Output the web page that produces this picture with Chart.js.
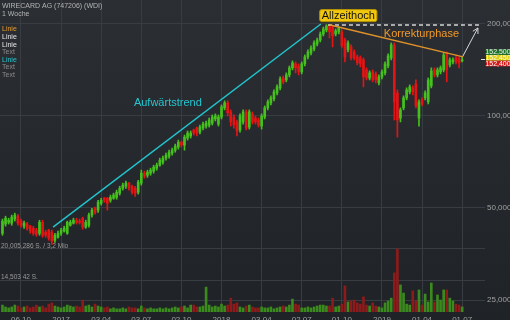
<!DOCTYPE html>
<html><head><meta charset="utf-8">
<script src="https://cdn.jsdelivr.net/npm/chart.js@4"></script>
<style>
html,body{margin:0;padding:0;width:510px;height:320px;overflow:hidden;background:linear-gradient(#2b2f34,#1f2226);}
#wrap{position:relative;width:510px;height:320px;}
canvas{display:block;}
</style></head><body><div id="wrap"><canvas id="c" width="510" height="320"></canvas></div>
<script>
// ---- axis ticks ----
const tickIndex = [6,19,32,45,58,71,84,97,110,123,136,149];
const tickLabels = ['06.10','2017','03.04','03.07','02.10','2018','03.04','02.07','01.10','2019','01.04','01.07'];
const priceTicks = [25,50,100,200];
const volumeTicks = [10.002643, 20.005286];
const volumeTickLabels = ['14,503 42 S.', '20,005,286 S. / 3,2 Mio'];

// ---- weekly candles (EUR) ----
const open = [
 41.3,44.3,44.9,44.6,46.0,47.0,45.3,43.6,44.3,43.6,
 42.9,42.3,41.3,44.9,41.7,42.3,41.7,39.2,40.1,41.3,
 42.0,41.3,43.9,44.6,45.6,45.3,46.3,43.3,43.9,47.4,
 49.9,49.2,51.8,53.8,53.8,53.0,53.8,54.2,55.9,58.0,
 58.9,60.3,58.9,58.0,56.3,60.3,65.0,64.0,65.0,66.0,
 67.5,69.0,70.6,72.8,73.9,75.6,77.3,79.1,82.1,80.3,
 84.7,86.0,90.0,91.3,88.6,91.3,92.7,93.4,94.8,97.8,
 94.1,99.2,106.3,110.4,103.1,99.2,95.6,90.0,95.6,103.1,
 92.0,101.6,98.5,97.0,92.7,99.2,106.3,110.4,113.8,119.0,
 123.6,133.2,131.2,136.3,143.7,148.1,145.8,139.4,148.1,156.1,
 160.8,165.7,172.1,177.3,185.5,191.2,198.5,195.5,185.5,188.4,
 188.4,177.3,164.5,168.2,162.0,156.1,154.9,152.6,141.5,133.2,
 139.4,137.3,128.3,134.2,138.4,145.8,154.9,170.8,119.0,98.5,
 106.3,114.6,119.9,123.6,127.4,98.5,112.9,114.6,111.2,125.5,
 141.5,136.3,139.4,141.5,160.8,146.9,150.3,154.9,153.7,151.4];
const high = [
 46.0,47.0,46.3,47.4,48.1,47.7,46.0,45.3,44.9,43.9,
 43.6,42.9,45.6,45.6,42.3,42.6,42.3,41.3,42.0,42.9,
 43.6,45.3,45.6,46.3,46.3,46.0,46.7,45.6,48.1,49.9,
 50.3,53.0,53.8,54.2,54.2,55.1,55.9,57.2,58.9,60.3,
 61.2,60.7,59.4,58.9,61.6,66.5,66.0,66.5,67.5,69.0,
 70.1,72.8,73.9,75.6,77.3,78.5,80.9,83.4,82.8,86.6,
 89.3,89.3,90.6,92.0,93.4,95.6,96.3,98.5,100.8,101.6,
 100.8,108.7,112.1,112.1,104.7,100.8,97.0,101.6,104.7,104.7,
 104.7,103.1,100.0,98.5,101.6,107.9,112.9,116.4,121.7,126.4,
 134.2,135.3,138.4,145.8,151.4,150.3,148.1,150.3,158.4,164.5,
 169.5,176.0,180.0,188.4,195.5,199.0,198.9,197.0,192.6,195.5,
 191.2,180.0,176.0,170.8,164.5,158.4,157.2,154.9,143.7,140.5,
 141.5,139.4,136.3,141.5,150.3,159.6,173.4,173.4,121.7,106.3,
 116.4,123.6,126.4,125.5,131.2,112.9,114.6,120.8,133.2,143.7,
 143.7,143.7,145.8,160.8,162.0,154.9,154.9,157.2,156.1,156.1];
const low = [
 40.7,43.6,44.3,43.9,45.3,43.9,43.3,42.9,42.3,41.3,
 40.7,40.4,40.7,40.1,40.1,39.2,38.0,38.6,39.8,40.7,
 41.7,41.0,43.6,44.3,44.3,44.3,42.6,42.9,43.3,46.7,
 47.7,48.4,51.1,52.2,49.2,52.2,53.4,53.4,55.1,57.2,
 58.0,57.2,55.5,54.6,55.5,59.4,62.6,63.0,64.0,65.0,
 66.5,68.5,69.5,71.7,72.8,74.4,76.1,77.9,79.1,77.3,
 83.4,84.7,86.6,86.0,87.3,90.0,91.3,92.0,93.4,96.3,
 92.7,97.8,104.7,100.0,92.7,91.3,86.0,88.6,94.1,90.0,
 90.6,94.1,94.1,92.0,90.6,97.8,104.7,108.7,112.1,117.2,
 121.7,127.4,129.3,134.2,141.5,138.4,136.3,137.3,145.8,153.7,
 158.4,163.3,169.5,174.7,182.8,188.4,180.0,168.2,182.8,185.5,
 167.0,150.3,162.0,152.6,152.6,146.9,144.7,124.5,131.2,131.2,
 129.3,128.3,126.4,132.2,136.3,143.7,152.6,97.0,85.3,95.6,
 104.7,112.9,118.1,117.2,106.3,92.7,107.9,112.9,109.5,123.6,
 134.2,134.2,137.3,139.4,129.3,144.7,148.1,148.1,143.7,150.3];
const close = [
 45.3,46.3,45.6,46.7,47.4,44.6,43.9,44.6,42.9,42.0,
 41.3,41.0,44.9,40.7,40.7,39.8,38.9,40.7,41.3,42.3,
 42.9,44.9,44.9,45.6,44.9,44.9,43.3,44.9,47.4,49.2,
 48.4,52.2,53.0,53.0,51.8,54.2,55.1,56.3,58.0,59.4,
 60.3,58.0,56.3,55.9,60.7,65.0,63.5,65.5,66.5,68.0,
 69.0,71.7,72.8,74.4,76.1,77.3,79.7,82.1,80.3,85.3,
 87.9,87.9,87.9,87.9,92.0,94.1,94.8,97.0,99.2,100.0,
 99.2,107.1,110.4,102.4,95.6,93.4,89.3,100.0,103.1,91.3,
 103.1,95.6,95.6,93.4,100.0,106.3,111.2,114.6,119.9,124.5,
 132.2,129.3,136.3,143.7,149.2,143.7,139.4,148.1,156.1,162.0,
 167.0,173.4,177.3,185.5,192.6,197.0,188.4,182.8,189.8,194.1,
 169.5,156.1,173.4,154.9,154.9,149.2,148.1,134.2,133.2,138.4,
 131.2,131.2,134.2,139.4,148.1,157.2,170.8,111.2,97.0,104.7,
 114.6,121.7,124.5,119.9,107.9,111.2,109.5,119.0,131.2,140.5,
 136.3,141.5,143.7,158.4,141.5,152.6,152.6,150.3,149.2,152.45];
// weekly volume, million shares
const volume = [
 2.2,1.6,1.3,1.6,2.2,1.9,1.3,1.6,1.9,1.3,1.6,2.2,1.6,1.9,1.3,2.5,2.9,
 1.9,1.6,1.3,1.6,2.2,1.9,1.6,1.9,1.6,3.8,1.9,2.2,1.6,2.5,1.9,1.6,
 1.3,1.6,1.0,1.3,1.0,1.0,1.3,1.0,1.6,1.3,1.3,1.0,1.9,1.3,1.0,1.3,1.0,1.0,1.3,1.0,1.3,1.0,1.3,1.6,
 1.3,1.6,1.9,1.3,2.2,2.2,1.6,1.6,1.9,7.9,2.2,1.6,1.9,1.6,2.5,1.9,
 2.2,4.4,2.5,2.9,1.6,1.3,1.9,2.2,1.6,1.3,1.3,1.6,1.3,1.3,1.6,1.0,1.3,1.6,
 1.9,1.6,2.2,4.1,2.5,2.2,1.3,1.3,1.6,1.3,1.6,1.9,2.2,2.2,1.9,
 1.9,4.4,1.6,1.9,2.5,8.3,3.2,3.5,3.8,2.9,2.5,4.8,2.2,1.9,2.9,1.9,1.6,1.3,2.9,3.5,4.4,
 12.4,20.005,8.6,6.0,2.5,2.2,6.7,3.5,7.0,2.2,5.7,3.2,9.2,3.2,5.4,3.8,7.0,7.0,4.4,3.5,2.5,2.2,1.6];

// ---- drawn lines (week index, price) ----
const uptrendLine = [{x:16.4,y:43.3},{x:103.2,y:200}];
const correctionLine = [{x:106.2,y:198.5},{x:149.3,y:156.1}];
const athLine = [{x:105.5,y:198.5},{x:155.4,y:198.5}];
const arrowLine = [{x:149.1,y:156.1},{x:154.1,y:194.1}];

// ---- annotations ----
const noteText = ['Allzeithoch','Korrekturphase','Aufwärtstrend'];
const noteX = [112.1, 135.8, 53.6];
const notePrice = [213.0, 186.2, 110.7];
const headerLines = ['WIRECARD AG (747206) (WDI)', '1 Woche'];
const legendItems = ['Linie','Linie','Linie','Text','Linie','Text','Text'];
const tagValues = [152.5, 152.45, 152.4];

const UP='#46c01c', DOWN='#e41414', VUP='#3b8a1e', VDOWN='#8e1b1b';
const isUp = close.map((c,i)=>c>=open[i]);
const fmt = v => v.toFixed(3).replace('.',',');
const FONT = '"Liberation Sans", Arial, sans-serif';
Chart.defaults.font.family = FONT;

const overlay = {
  id:'overlay',
  afterDatasetsDraw(chart){
    const {ctx, scales} = chart;
    const px = v=>scales.x.getPixelForValue(v), py = v=>scales.y.getPixelForValue(v);
    ctx.save();
    // arrow head
    const x1=px(arrowLine[0].x), y1=py(arrowLine[0].y), x2=px(arrowLine[1].x), y2=py(arrowLine[1].y);
    const ang=Math.atan2(y2-y1,x2-x1);
    ctx.strokeStyle='#d8d8d8'; ctx.lineWidth=1;
    ctx.beginPath();
    ctx.moveTo(x2-6*Math.cos(ang-0.5), y2-6*Math.sin(ang-0.5));
    ctx.lineTo(x2,y2);
    ctx.lineTo(x2-6*Math.cos(ang+0.5), y2-6*Math.sin(ang+0.5));
    ctx.stroke();
    // notes
    ctx.font='11px '+FONT; ctx.textAlign='center'; ctx.textBaseline='middle';
    // Allzeithoch box
    let cx=px(noteX[0]), cy=py(notePrice[0]);
    let w=ctx.measureText(noteText[0]).width+4, h=12;
    ctx.fillStyle='#f2c80e'; ctx.strokeStyle='#b89400';
    ctx.beginPath(); ctx.roundRect(cx-w/2, cy-h/2, w, h, 2); ctx.fill(); ctx.stroke();
    ctx.fillStyle='#111'; ctx.fillText(noteText[0], cx, cy+0.5);
    ctx.fillStyle='#f09a28'; ctx.fillText(noteText[1], px(noteX[1]), py(notePrice[1]));
    ctx.fillStyle='#26c6cf'; ctx.fillText(noteText[2], px(noteX[2]), py(notePrice[2]));
    ctx.restore();
  },
  afterDraw(chart){
    const {ctx, scales} = chart;
    ctx.save();
    ctx.textAlign='left'; ctx.textBaseline='middle';
    ctx.font='7px '+FONT;
    ctx.fillStyle='#b4b4b4';
    ctx.fillText(headerLines[0], 2, 6);
    ctx.fillText(headerLines[1], 2, 14.5);
    const lc=['#e89a2a','#e6e6e6','#e6e6e6','#8a8a8a','#26c6cf','#8a8a8a','#8a8a8a'];
    legendItems.forEach((t,i)=>{ctx.fillStyle=lc[i]; ctx.fillText(t, 2, 29.5+i*7.6);});
    // price tags
    const yc = scales.y.getPixelForValue(tagValues[1]);
    const tops=[yc-10.7, yc-5, yc+0.7];
    const bg=['#23702c','#e2d018','#d21a1a'];
    const fg=['#e8f4e8','#fafae0','#ffffff'];
    ctx.font='7px '+FONT; ctx.textAlign='center';
    tagValues.forEach((v,i)=>{
      ctx.fillStyle=bg[i]; ctx.fillRect(486, tops[i], 24, 5.7);
      ctx.fillStyle=fg[i]; ctx.fillText(fmt(v), 498, tops[i]+3);
    });
    ctx.strokeStyle='#e0e0e0'; ctx.lineWidth=1;
    ctx.beginPath(); ctx.moveTo(481, Math.round(yc)-0.5); ctx.lineTo(485, Math.round(yc)-0.5); ctx.stroke();
    ctx.restore();
  }
};

const GRID='#383d43';
const lineDs = (data,color,width,dash)=>({type:'line',data,borderColor:color,borderWidth:width,borderDash:dash||[],pointRadius:0,yAxisID:'y',xAxisID:'x',order:1,tension:0});

new Chart(document.getElementById('c'),{
  type:'bar',
  data:{datasets:[
    {data:volume.map((v,i)=>({x:i,y:v})), yAxisID:'yv', backgroundColor:isUp.map(u=>u?VUP:VDOWN), barThickness:2, grouped:false, order:6},
    {data:high.map((h,i)=>({x:i,y:[low[i],h]})), yAxisID:'y', backgroundColor:isUp.map(u=>u?UP:DOWN), barThickness:1, grouped:false, order:5},
    {data:open.map((o,i)=>({x:i,y:[o,close[i]]})), yAxisID:'y', backgroundColor:isUp.map(u=>u?UP:DOWN), barThickness:2, minBarLength:1, grouped:false, order:4},
    lineDs(uptrendLine,'#22c4cc',1.5),
    lineDs(correctionLine,'#e0922a',1.5),
    lineDs(athLine,'#d4d4d4',1.3,[4,3]),
    lineDs(arrowLine,'#d8d8d8',1)
  ]},
  options:{
    responsive:false, animation:false, devicePixelRatio:1,
    layout:{padding:0},
    plugins:{legend:{display:false},tooltip:{enabled:false},title:{display:false}},
    scales:{
      x:{type:'linear',min:-0.8,max:156.4,offset:false,
        grid:{color:GRID,offset:false,drawTicks:false},border:{display:false},
        afterBuildTicks:s=>{s.ticks=tickIndex.map(v=>({value:v}));},
        afterFit:s=>{s.height=8;s.paddingLeft=0;s.paddingRight=0;},
        ticks:{autoSkip:false,maxRotation:0,padding:3,color:'#a0a0a0',font:{size:8},callback:(v,i)=>tickLabels[i]}},
      y:{type:'logarithmic',position:'right',min:22.84,max:239.6,
        grid:{color:GRID,drawTicks:false},border:{display:false},
        afterBuildTicks:s=>{s.ticks=priceTicks.map(v=>({value:v}));},
        afterFit:s=>{s.width=25;s.paddingTop=0;s.paddingBottom=0;},
        ticks:{padding:2,color:'#a0a0a0',font:{size:8},callback:(v,i)=>fmt(priceTicks[i])}},
      yv:{type:'linear',position:'left',min:0,max:99.07,
        grid:{color:GRID,drawTicks:false},border:{display:false},
        afterBuildTicks:s=>{s.ticks=volumeTicks.map(v=>({value:v}));},
        afterFit:s=>{s.width=0;s.paddingTop=0;s.paddingBottom=0;},
        ticks:{mirror:true,padding:1,labelOffset:-3,color:'#9a9a9a',font:{size:6.5},callback:(v,i)=>volumeTickLabels[i]}}
    }
  },
  plugins:[overlay]
});
</script></body></html>
